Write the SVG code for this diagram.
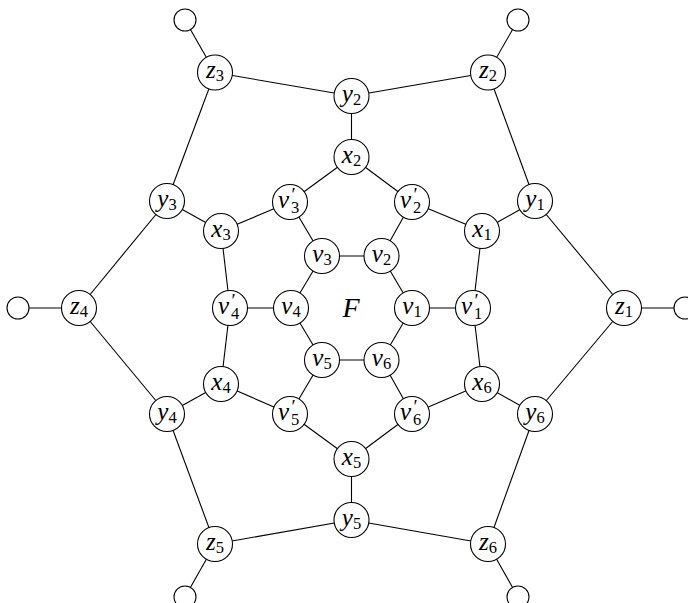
<svg xmlns="http://www.w3.org/2000/svg" width="688" height="603" viewBox="0 0 688 603">
<style>
.e line{stroke:#000;stroke-width:1.1}
circle{fill:#fff;stroke:#000;stroke-width:1.1}
text{font-family:"Liberation Serif","Times New Roman",serif;font-size:25px;fill:#000}
.i{font-style:italic}
.s{font-size:16.5px;font-style:normal}
.p{font-size:19px;font-style:normal}
</style>
<rect width="688" height="603" fill="#fff"/>
<g class="e">
<line x1="185" y1="20" x2="215" y2="72.5"/>
<line x1="215" y1="72.5" x2="351.5" y2="96"/>
<line x1="351.5" y1="96" x2="488" y2="72.5"/>
<line x1="488" y1="72.5" x2="518" y2="20"/>
<line x1="215" y1="72.5" x2="167" y2="201"/>
<line x1="488" y1="72.5" x2="535" y2="201"/>
<line x1="351.5" y1="96" x2="351.5" y2="157"/>
<line x1="351.5" y1="157" x2="290" y2="202"/>
<line x1="351.5" y1="157" x2="412" y2="202"/>
<line x1="167" y1="201" x2="221" y2="231"/>
<line x1="167" y1="201" x2="79" y2="308"/>
<line x1="290" y1="202" x2="221" y2="231"/>
<line x1="290" y1="202" x2="322" y2="256"/>
<line x1="412" y1="202" x2="482" y2="231"/>
<line x1="412" y1="202" x2="381.5" y2="256"/>
<line x1="535" y1="201" x2="482" y2="231"/>
<line x1="535" y1="201" x2="624" y2="308"/>
<line x1="322" y1="256" x2="381.5" y2="256"/>
<line x1="221" y1="231" x2="230" y2="308"/>
<line x1="482" y1="231" x2="473" y2="308"/>
<line x1="322" y1="256" x2="291" y2="308"/>
<line x1="381.5" y1="256" x2="412" y2="308"/>
<line x1="18" y1="308" x2="79" y2="308"/>
<line x1="79" y1="308" x2="167" y2="414"/>
<line x1="230" y1="308" x2="291" y2="308"/>
<line x1="412" y1="308" x2="473" y2="308"/>
<line x1="624" y1="308" x2="685" y2="308"/>
<line x1="230" y1="308" x2="221" y2="384"/>
<line x1="473" y1="308" x2="482" y2="384"/>
<line x1="291" y1="308" x2="322" y2="360"/>
<line x1="412" y1="308" x2="381.5" y2="360"/>
<line x1="322" y1="360" x2="381.5" y2="360"/>
<line x1="322" y1="360" x2="290" y2="414"/>
<line x1="381.5" y1="360" x2="412" y2="414"/>
<line x1="221" y1="384" x2="167" y2="414"/>
<line x1="221" y1="384" x2="290" y2="414"/>
<line x1="482" y1="384" x2="412" y2="414"/>
<line x1="482" y1="384" x2="535" y2="414"/>
<line x1="535" y1="414" x2="624" y2="308"/>
<line x1="290" y1="414" x2="351.5" y2="459"/>
<line x1="412" y1="414" x2="351.5" y2="459"/>
<line x1="167" y1="414" x2="215" y2="544"/>
<line x1="535" y1="414" x2="488" y2="544"/>
<line x1="351.5" y1="459" x2="351.5" y2="520"/>
<line x1="351.5" y1="520" x2="215" y2="544"/>
<line x1="351.5" y1="520" x2="488" y2="544"/>
<line x1="215" y1="544" x2="185" y2="597"/>
<line x1="488" y1="544" x2="518" y2="597"/>
</g>
<g id="leaf-z3"><circle cx="185" cy="20" r="11"/></g>
<g id="leaf-z2"><circle cx="518" cy="20" r="11"/></g>
<g id="leaf-z4"><circle cx="18" cy="308" r="11"/></g>
<g id="leaf-z1"><circle cx="685" cy="308" r="11"/></g>
<g id="leaf-z5"><circle cx="185" cy="597" r="11"/></g>
<g id="leaf-z6"><circle cx="518" cy="597" r="11"/></g>
<g id="z3"><circle cx="215" cy="72.5" r="17.5"/><text x="215" y="78" text-anchor="middle"><tspan class="i">z</tspan><tspan class="s" dy="3">3</tspan></text></g>
<g id="z2"><circle cx="488" cy="72.5" r="17.5"/><text x="488" y="78" text-anchor="middle"><tspan class="i">z</tspan><tspan class="s" dy="3">2</tspan></text></g>
<g id="y2"><circle cx="351.5" cy="96" r="17.5"/><text x="351.5" y="101.5" text-anchor="middle"><tspan class="i">y</tspan><tspan class="s" dy="3">2</tspan></text></g>
<g id="x2"><circle cx="351.5" cy="157" r="17.5"/><text x="351.5" y="162.5" text-anchor="middle"><tspan class="i">x</tspan><tspan class="s" dy="3">2</tspan></text></g>
<g id="y3"><circle cx="167" cy="201" r="17.5"/><text x="167" y="206.5" text-anchor="middle"><tspan class="i">y</tspan><tspan class="s" dy="3">3</tspan></text></g>
<g id="y1"><circle cx="535" cy="201" r="17.5"/><text x="535" y="206.5" text-anchor="middle"><tspan class="i">y</tspan><tspan class="s" dy="3">1</tspan></text></g>
<g id="v3p"><circle cx="290" cy="202" r="17.5"/><text x="278" y="208"><tspan class="i">v</tspan><tspan class="p" x="291.5" y="201">′</tspan><tspan class="s" x="291" y="213">3</tspan></text></g>
<g id="v2p"><circle cx="412" cy="202" r="17.5"/><text x="400" y="208"><tspan class="i">v</tspan><tspan class="p" x="413.5" y="201">′</tspan><tspan class="s" x="413" y="213">2</tspan></text></g>
<g id="x3"><circle cx="221" cy="231" r="17.5"/><text x="221" y="236.5" text-anchor="middle"><tspan class="i">x</tspan><tspan class="s" dy="3">3</tspan></text></g>
<g id="x1"><circle cx="482" cy="231" r="17.5"/><text x="482" y="236.5" text-anchor="middle"><tspan class="i">x</tspan><tspan class="s" dy="3">1</tspan></text></g>
<g id="v3"><circle cx="322" cy="256" r="17.5"/><text x="322" y="261.5" text-anchor="middle"><tspan class="i">v</tspan><tspan class="s" dy="3">3</tspan></text></g>
<g id="v2"><circle cx="381.5" cy="256" r="17.5"/><text x="381.5" y="261.5" text-anchor="middle"><tspan class="i">v</tspan><tspan class="s" dy="3">2</tspan></text></g>
<g id="z4"><circle cx="79" cy="308" r="17.5"/><text x="79" y="313.5" text-anchor="middle"><tspan class="i">z</tspan><tspan class="s" dy="3">4</tspan></text></g>
<g id="v4p"><circle cx="230" cy="308" r="17.5"/><text x="218" y="314"><tspan class="i">v</tspan><tspan class="p" x="231.5" y="307">′</tspan><tspan class="s" x="231" y="319">4</tspan></text></g>
<g id="v4"><circle cx="291" cy="308" r="17.5"/><text x="291" y="313.5" text-anchor="middle"><tspan class="i">v</tspan><tspan class="s" dy="3">4</tspan></text></g>
<g id="F"><text x="351" y="317" text-anchor="middle" class="i" style="font-size:28px">F</text></g>
<g id="v1"><circle cx="412" cy="308" r="17.5"/><text x="412" y="313.5" text-anchor="middle"><tspan class="i">v</tspan><tspan class="s" dy="3">1</tspan></text></g>
<g id="v1p"><circle cx="473" cy="308" r="17.5"/><text x="461" y="314"><tspan class="i">v</tspan><tspan class="p" x="474.5" y="307">′</tspan><tspan class="s" x="474" y="319">1</tspan></text></g>
<g id="z1"><circle cx="624" cy="308" r="17.5"/><text x="624" y="313.5" text-anchor="middle"><tspan class="i">z</tspan><tspan class="s" dy="3">1</tspan></text></g>
<g id="v5"><circle cx="322" cy="360" r="17.5"/><text x="322" y="365.5" text-anchor="middle"><tspan class="i">v</tspan><tspan class="s" dy="3">5</tspan></text></g>
<g id="v6"><circle cx="381.5" cy="360" r="17.5"/><text x="381.5" y="365.5" text-anchor="middle"><tspan class="i">v</tspan><tspan class="s" dy="3">6</tspan></text></g>
<g id="x4"><circle cx="221" cy="384" r="17.5"/><text x="221" y="389.5" text-anchor="middle"><tspan class="i">x</tspan><tspan class="s" dy="3">4</tspan></text></g>
<g id="x6"><circle cx="482" cy="384" r="17.5"/><text x="482" y="389.5" text-anchor="middle"><tspan class="i">x</tspan><tspan class="s" dy="3">6</tspan></text></g>
<g id="y4"><circle cx="167" cy="414" r="17.5"/><text x="167" y="419.5" text-anchor="middle"><tspan class="i">y</tspan><tspan class="s" dy="3">4</tspan></text></g>
<g id="v5p"><circle cx="290" cy="414" r="17.5"/><text x="278" y="420"><tspan class="i">v</tspan><tspan class="p" x="291.5" y="413">′</tspan><tspan class="s" x="291" y="425">5</tspan></text></g>
<g id="v6p"><circle cx="412" cy="414" r="17.5"/><text x="400" y="420"><tspan class="i">v</tspan><tspan class="p" x="413.5" y="413">′</tspan><tspan class="s" x="413" y="425">6</tspan></text></g>
<g id="y6"><circle cx="535" cy="414" r="17.5"/><text x="535" y="419.5" text-anchor="middle"><tspan class="i">y</tspan><tspan class="s" dy="3">6</tspan></text></g>
<g id="x5"><circle cx="351.5" cy="459" r="17.5"/><text x="351.5" y="464.5" text-anchor="middle"><tspan class="i">x</tspan><tspan class="s" dy="3">5</tspan></text></g>
<g id="y5"><circle cx="351.5" cy="520" r="17.5"/><text x="351.5" y="525.5" text-anchor="middle"><tspan class="i">y</tspan><tspan class="s" dy="3">5</tspan></text></g>
<g id="z5"><circle cx="215" cy="544" r="17.5"/><text x="215" y="549.5" text-anchor="middle"><tspan class="i">z</tspan><tspan class="s" dy="3">5</tspan></text></g>
<g id="z6"><circle cx="488" cy="544" r="17.5"/><text x="488" y="549.5" text-anchor="middle"><tspan class="i">z</tspan><tspan class="s" dy="3">6</tspan></text></g>
</svg>
